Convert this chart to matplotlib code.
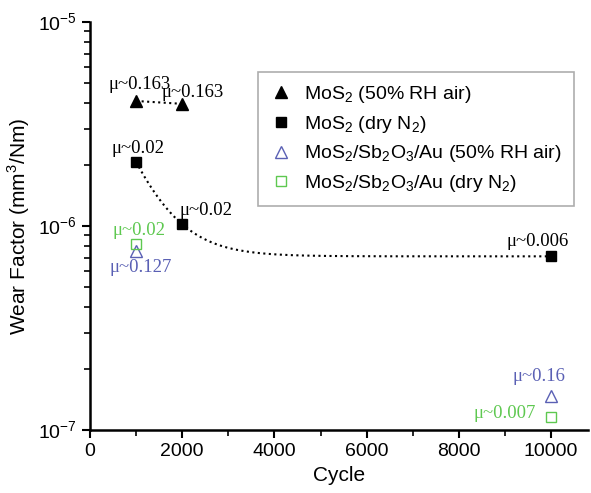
import matplotlib

matplotlib.use("Agg")
import matplotlib.pyplot as plt
import numpy as np

plt.rcParams["font.family"] = ["Liberation Sans", "DejaVu Sans"]
plt.rcParams["mathtext.fontset"] = "custom"
plt.rcParams["mathtext.rm"] = "Liberation Sans"

# --- data ---
cyc_air = [1000, 2000]
wf_air = [4.1e-6, 3.97e-6]
mu_air = ["\u03bc~0.163", "\u03bc~0.163"]

cyc_n2 = [1000, 2000, 10000]
wf_n2 = [2.06e-6, 1.02e-6, 7.1e-7]
mu_n2 = ["\u03bc~0.02", "\u03bc~0.02", "\u03bc~0.006"]

cyc_sb_air = [1000, 10000]
wf_sb_air = [7.5e-7, 1.47e-7]
mu_sb_air = ["\u03bc~0.127", "\u03bc~0.16"]

cyc_sb_n2 = [1000, 10000]
wf_sb_n2 = [8.2e-7, 1.16e-7]
mu_sb_n2 = ["\u03bc~0.02", "\u03bc~0.007"]

BLUE = "#5a60b4"
GREEN = "#5ec850"

fig = plt.figure(figsize=(5.91, 4.93), dpi=100)
ax = fig.add_axes([0.1523, 0.1278, 0.8426, 0.8276])

# dotted guide lines
ax.plot(cyc_air, wf_air, ls=":", color="black", lw=1.5)
# exponential decay through the three dry N2 points: y = y0 + A*exp(-x/t)
r = (wf_n2[0] - wf_n2[2]) / (wf_n2[1] - wf_n2[2])
t = (cyc_n2[1] - cyc_n2[0]) / np.log(r)
A = (wf_n2[0] - wf_n2[2]) * np.exp(cyc_n2[0] / t)
xf = np.linspace(cyc_n2[0], cyc_n2[2], 300)
ax.plot(xf, wf_n2[2] + A * np.exp(-xf / t), ls=":", color="black", lw=1.5)

ax.plot(cyc_air, wf_air, "^", color="black", ms=9, ls="none",
        label="MoS$_2$ (50% RH air)")
ax.plot(cyc_n2, wf_n2, "s", color="black", ms=7, ls="none",
        label="MoS$_2$ (dry N$_2$)")
ax.plot(cyc_sb_air, wf_sb_air, "^", mfc="none", mec=BLUE, mew=1.0, ms=9, ls="none",
        label="MoS$_2$/Sb$_2$O$_3$/Au (50% RH air)")
ax.plot(cyc_sb_n2, wf_sb_n2, "s", mfc="none", mec=GREEN, mew=1.0, ms=7, ls="none",
        label="MoS$_2$/Sb$_2$O$_3$/Au (dry N$_2$)")

serif = dict(family="Liberation Serif", fontsize=13.5, ha="center", va="center",
             textcoords="offset pixels")
offs_air = [(4, 16), (10, 11)]
offs_n2 = [(2, 13), (24, 14), (-13, 15)]
offs_sb_air = [(5, -16), (-12, 19)]
offs_sb_n2 = [(3, 13), (-46, 3)]
for xs, ys, labs, offs, col in [
    (cyc_air, wf_air, mu_air, offs_air, "black"),
    (cyc_n2, wf_n2, mu_n2, offs_n2, "black"),
    (cyc_sb_air, wf_sb_air, mu_sb_air, offs_sb_air, BLUE),
    (cyc_sb_n2, wf_sb_n2, mu_sb_n2, offs_sb_n2, GREEN),
]:
    for x, y, s, o in zip(xs, ys, labs, offs):
        ax.annotate(s, (x, y), xytext=o, color=col, **serif)

ax.set_yscale("log")
ax.set_xlim(0, 10800)
ax.set_ylim(1e-7, 1e-5)
ax.set_xticks([0, 2000, 4000, 6000, 8000, 10000])
ax.set_xticks(np.arange(1000, 10001, 2000), minor=True)
ax.set_yticks([1e-7, 1e-6, 1e-5])
ax.set_yticklabels(["10$^{-7}$", "10$^{-6}$", "10$^{-5}$"])
ax.spines["top"].set_visible(False)
ax.spines["right"].set_visible(False)
for sp in ("left", "bottom"):
    ax.spines[sp].set_linewidth(1.8)
ax.tick_params(which="major", direction="out", length=6, width=1.5, labelsize=14)
ax.tick_params(which="minor", direction="out", length=4, width=1.2)

ax.set_xlabel("Cycle", fontsize=15)
ax.set_ylabel("Wear Factor (mm$^3$/Nm)", fontsize=15, labelpad=4)

leg = ax.legend(loc="upper left", bbox_to_anchor=(0.337, 0.877), fontsize=14,
                frameon=True, fancybox=False, edgecolor="#999999",
                handletextpad=0.6, handlelength=1.2, borderpad=0.6,
                labelspacing=0.45, borderaxespad=0)
leg.get_frame().set_linewidth(1.2)

fig.savefig("out.png", dpi=100)
